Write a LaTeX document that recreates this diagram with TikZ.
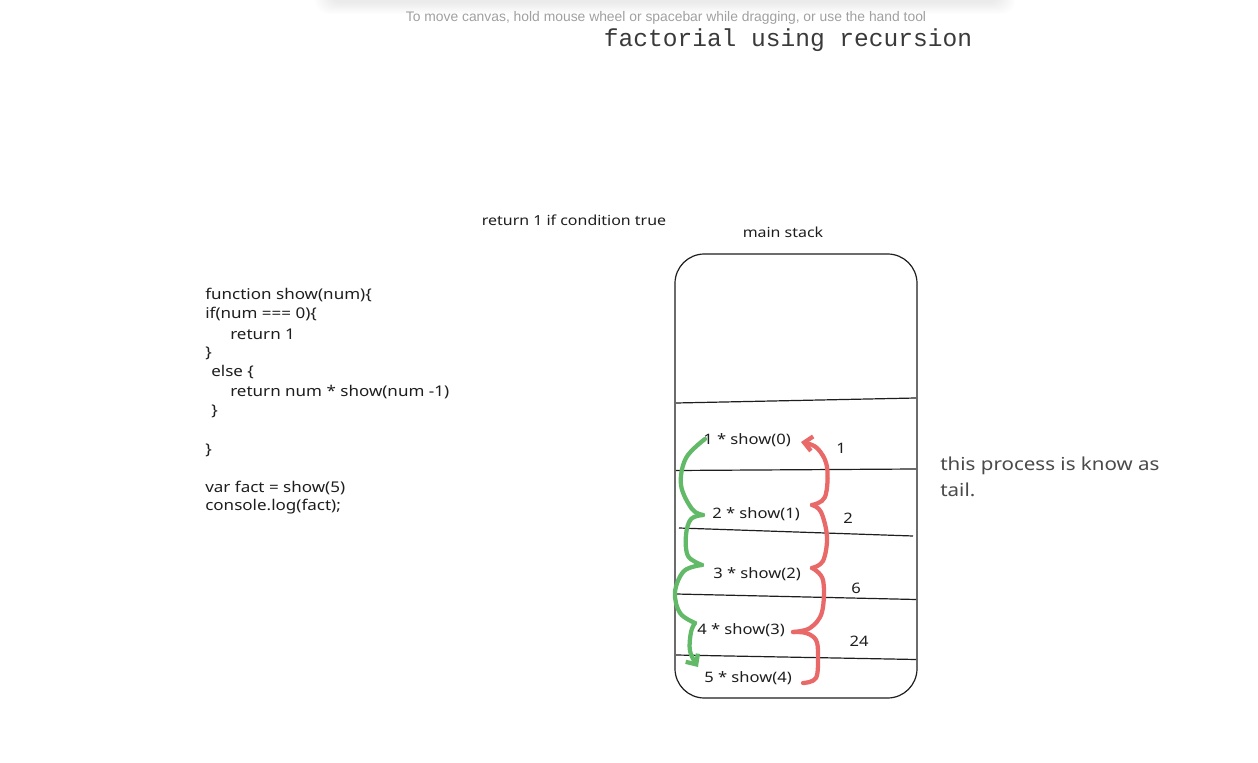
\documentclass[tikz,border=0pt]{standalone}
\usepackage{fontspec}
\setmainfont[FakeStretch=1.15]{Noto Sans}
\newfontfamily\titlefont{Liberation Mono}
\newfontfamily\toastfont{Liberation Sans}
\usetikzlibrary{arrows.meta}
\definecolor{ink}{HTML}{1E1E1E}
\definecolor{titlegray}{HTML}{3A3A3A}
\definecolor{notegray}{HTML}{4A4A4A}
\definecolor{toastgray}{HTML}{A0A0A0}
\definecolor{gr}{RGB}{98,186,104}
\definecolor{rd}{RGB}{233,104,104}
\begin{document}
\begin{tikzpicture}[x=0.75pt,y=-0.75pt,
  code/.style={inner sep=0pt, anchor=west, text=ink, font=\fontsize{11.1}{13}\selectfont},
  lbl/.style={inner sep=0pt, text=ink, font=\fontsize{10.4}{12}\selectfont},
  cell/.style={inner sep=0pt, text=ink, font=\fontsize{10.8}{13}\selectfont},
  stackline/.style={draw=ink, line width=0.9pt},
  flowg/.style={draw=gr, line width=3.2pt, line cap=round, line join=round},
  flowr/.style={draw=rd, line width=3.2pt, line cap=round, line join=round},
  tip/.style={-{Straight Barb[length=6pt,width=11pt]}}
]
\useasboundingbox (0,0) rectangle (1258,763);
\fill[white] (0,0) rectangle (1258,763);

% toast shadow
\foreach \i in {1,...,10}
  \fill[black, opacity=0.006, rounded corners=10] (330-\i*1.5,-20) rectangle (1000+\i*1.5,2+\i*1.2);
\node[inner sep=0pt, text=toastgray, font=\toastfont\fontsize{10.4}{12}\selectfont] (toast) at (666,18)
  {To move canvas, hold mouse wheel or spacebar while dragging, or use the hand tool};

% title
\node[inner sep=0pt, text=titlegray, font=\titlefont\fontsize{18.4}{20}\selectfont] (title) at (788,40) {factorial using recursion};

% code
\node[code] (c1) at (205,295) {function show(num)\{};
\node[code] (c2) at (205,314) {if(num === 0)\{};
\node[code] (c3) at (230,334) {return 1};
\node[code] (c4) at (205,353) {\}};
\node[code] (c5) at (211,372) {else \{};
\node[code] (c6) at (230,392) {return num * show(num -1)};
\node[code] (c7) at (211,411) {\}};
\node[code] (c8) at (205,450) {\}};
\node[code] (c9) at (205,488) {var fact = show(5)};
\node[code] (c10) at (205,507) {console.log(fact);};

% labels
\node[lbl] (ret) at (574,220) {return 1 if condition true};
\node[lbl] (mainlbl) at (783,232) {main stack};

% stack
\node[draw=ink, line width=0.9pt, rounded corners=22pt, minimum width=181.5pt, minimum height=333pt, inner sep=0pt] (stack) at (796,476) {};
\draw[stackline] (676,403) -- (916,398);
\draw[stackline] (676,470.5) -- (916,469);
\draw[stackline] (679,528) -- (913,536);
\draw[stackline] (676,594) -- (916,599.5);
\draw[stackline] (676,655) -- (916,659.5);

% cells
\node[cell] (s0) at (747,440) {1 * show(0)};
\node[cell] (s1) at (756,514) {2 * show(1)};
\node[cell] (s2) at (757,574) {3 * show(2)};
\node[cell] (s3) at (741,630) {4 * show(3)};
\node[cell] (s4) at (748,678) {5 * show(4)};
\node[cell] (v1) at (841,448) {1};
\node[cell] (v2) at (848,518) {2};
\node[cell] (v6) at (856,588) {6};
\node[cell] (v24) at (859,641) {24};

% note
\node[inner sep=0pt, anchor=west, text=notegray, font=\fontsize{13.4}{18}\selectfont] (note1) at (940,466) {this process is know as};
\node[inner sep=0pt, anchor=west, text=notegray, font=\fontsize{13.4}{18}\selectfont] (note2) at (940,490) {tail.};

% green descending calls
\draw[flowg] plot[smooth, tension=0.6] coordinates {(705,439) (686,458) (681,485) (692,509) (703,515)};
\draw[flowg] plot[smooth, tension=0.6] coordinates {(703,515) (691,519) (686,535) (688,556) (702,565)};
\draw[flowg] plot[smooth, tension=0.6] coordinates {(702,565) (684,571) (675,592) (680,613) (695,623)};
\draw[flowg, tip] plot[smooth, tension=0.6] coordinates {(695,623) (691,632) (690,651) (698,667)};

% red returning values
\draw[flowr] plot[smooth, tension=0.6] coordinates {(803,683) (816,678) (818,655) (816,640) (806,633) (793,632)};
\draw[flowr] plot[smooth, tension=0.6] coordinates {(793,632) (810,628) (822,612) (823,580) (812,568)};
\draw[flowr] plot[smooth, tension=0.6] coordinates {(812,568) (823,561) (827,537) (821,512) (812,505)};
\draw[flowr, tip] plot[smooth, tension=0.6] coordinates {(812,505) (825,497) (827,467) (817,448) (801,442)};
\end{tikzpicture}
\end{document}
